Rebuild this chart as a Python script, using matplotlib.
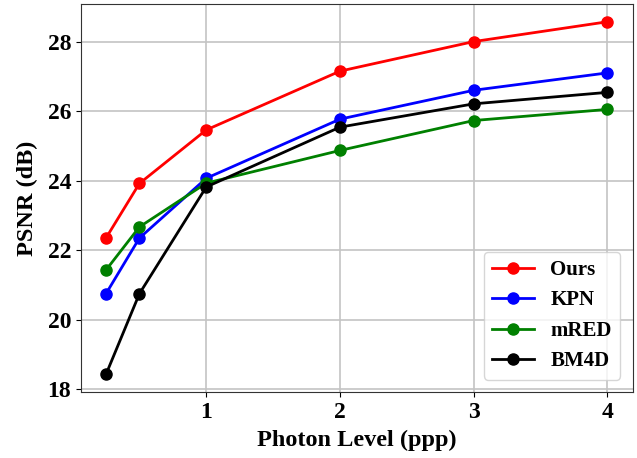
import matplotlib
matplotlib.use("Agg")
import matplotlib.pyplot as plt

plt.rcParams['font.family'] = ['Liberation Serif', 'DejaVu Serif']
plt.rcParams['font.weight'] = 'bold'

# photon levels (ppp)
photon_levels = [0.25, 0.5, 1, 2, 3, 4]

# PSNR values (dB) per method
psnr_ours = [22.35, 23.92, 25.46, 27.15, 28.0, 28.57]
psnr_kpn = [20.75, 22.35, 24.07, 25.77, 26.6, 27.1]
psnr_mred = [21.43, 22.67, 23.93, 24.87, 25.73, 26.05]
psnr_bm4d = [18.43, 20.75, 23.82, 25.54, 26.21, 26.54]

x_ticks = [1, 2, 3, 4]
y_ticks = [18, 20, 22, 24, 26, 28]

fig = plt.figure(figsize=(6.37, 4.58), dpi=100)
ax = fig.add_axes([0.127, 0.144, 0.866, 0.847])

ax.plot(photon_levels, psnr_ours, 'o-', color='red', label='Ours', linewidth=2, markersize=8)
ax.plot(photon_levels, psnr_kpn, 'o-', color='blue', label='KPN', linewidth=2, markersize=8)
ax.plot(photon_levels, psnr_mred, 'o-', color='green', label='mRED', linewidth=2, markersize=8)
ax.plot(photon_levels, psnr_bm4d, 'o-', color='black', label='BM4D', linewidth=2, markersize=8)

ax.set_xticks(x_ticks)
ax.set_yticks(y_ticks)
ax.tick_params(labelsize=17)
ax.grid(True, color='#c4c4c4', linewidth=1.2)
ax.set_axisbelow(True)
for sp in ax.spines.values():
    sp.set_color('#333333')

ax.set_xlabel('Photon Level (ppp)', fontsize=17.5, fontweight='bold', labelpad=5)
ax.set_ylabel('PSNR (dB)', fontsize=17.5, fontweight='bold', labelpad=7)
ax.legend(loc='lower right', prop={'weight': 'bold', 'size': 15}, borderaxespad=0.6)

fig.savefig('out.png', dpi=100)
